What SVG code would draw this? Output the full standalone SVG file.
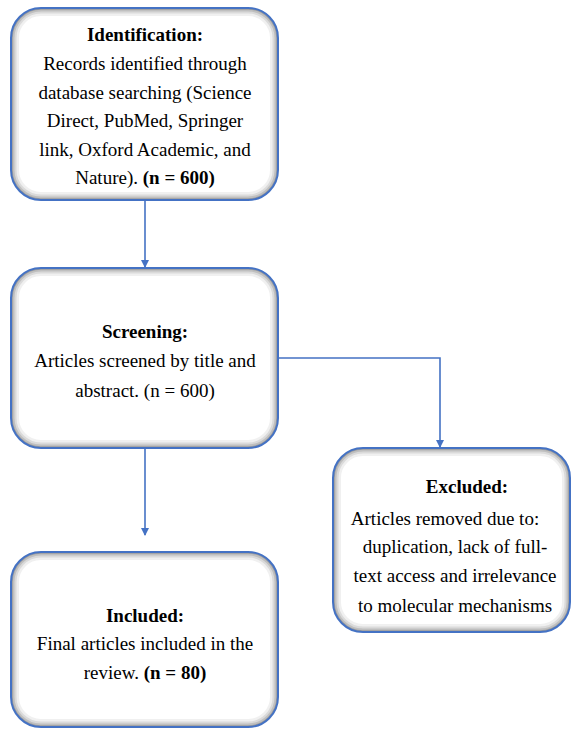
<svg xmlns="http://www.w3.org/2000/svg" width="572" height="729" viewBox="0 0 572 729">
<defs>
<style>
.fillw{fill:#ffffff}
.edge{fill:none;stroke:#4472C4;stroke-width:2}
.s1{fill:none;stroke:#000000;stroke-width:16;stroke-opacity:0.06}
.s2{fill:none;stroke:#000000;stroke-width:11;stroke-opacity:0.09}
.s3{fill:none;stroke:#000000;stroke-width:7;stroke-opacity:0.12}
.s4{fill:none;stroke:#000000;stroke-width:3.5;stroke-opacity:0.18}
text{font-family:'Liberation Serif','Times New Roman',serif;font-size:19px;fill:#000;text-anchor:middle}
.b{font-weight:bold}
.conn{fill:none;stroke:#4472C4;stroke-width:1.6}
</style>
<clipPath id="c1"><rect x="11" y="8" width="267" height="192" rx="30"/></clipPath>
<clipPath id="c2"><rect x="11" y="268" width="267" height="180" rx="30"/></clipPath>
<clipPath id="c3"><rect x="333" y="448" width="237" height="184" rx="30"/></clipPath>
<clipPath id="c4"><rect x="11" y="552" width="267" height="175" rx="30"/></clipPath>
<marker id="arr" markerWidth="8" markerHeight="8" refX="7" refY="4" orient="auto" markerUnits="userSpaceOnUse">
<path d="M0,0 L8,4 L0,8 z" fill="#4472C4"/>
</marker>
</defs>
<g id="connectors">
<path class="conn" d="M145,200 V267" marker-end="url(#arr)"/>
<path class="conn" d="M278,358 H440 V447" marker-end="url(#arr)"/>
<path class="conn" d="M145,448 V535" marker-end="url(#arr)"/>
</g>
<g id="identification">
<rect class="fillw" x="11" y="8" width="267" height="192" rx="30"/>
<g clip-path="url(#c1)">
<rect class="s1" x="11" y="8" width="267" height="192" rx="30"/>
<rect class="s2" x="11" y="8" width="267" height="192" rx="30"/>
<rect class="s3" x="11" y="8" width="267" height="192" rx="30"/>
<rect class="s4" x="11" y="8" width="267" height="192" rx="30"/>
</g>
<rect class="edge" x="11" y="8" width="267" height="192" rx="30"/>
<text class="b" x="145" y="41">Identification:</text>
<text x="145" y="70">Records identified through</text>
<text x="145" y="99">database searching (Science</text>
<text x="145" y="127">Direct, PubMed, Springer</text>
<text x="145" y="156">link, Oxford Academic, and</text>
<text x="145" y="184">Nature). <tspan class="b">(n = 600)</tspan></text>
</g>
<g id="screening">
<rect class="fillw" x="11" y="268" width="267" height="180" rx="30"/>
<g clip-path="url(#c2)">
<rect class="s1" x="11" y="268" width="267" height="180" rx="30"/>
<rect class="s2" x="11" y="268" width="267" height="180" rx="30"/>
<rect class="s3" x="11" y="268" width="267" height="180" rx="30"/>
<rect class="s4" x="11" y="268" width="267" height="180" rx="30"/>
</g>
<rect class="edge" x="11" y="268" width="267" height="180" rx="30"/>
<text class="b" x="145" y="338">Screening:</text>
<text x="145" y="367">Articles screened by title and</text>
<text x="145" y="397">abstract. (n = 600)</text>
</g>
<g id="excluded">
<rect class="fillw" x="333" y="448" width="237" height="184" rx="30"/>
<g clip-path="url(#c3)">
<rect class="s1" x="333" y="448" width="237" height="184" rx="30"/>
<rect class="s2" x="333" y="448" width="237" height="184" rx="30"/>
<rect class="s3" x="333" y="448" width="237" height="184" rx="30"/>
<rect class="s4" x="333" y="448" width="237" height="184" rx="30"/>
</g>
<rect class="edge" x="333" y="448" width="237" height="184" rx="30"/>
<text class="b" x="467" y="493">Excluded:</text>
<text x="445" y="525">Articles removed due to:</text>
<text x="455" y="553">duplication, lack of full-</text>
<text x="455" y="582">text access and irrelevance</text>
<text x="455" y="612">to molecular mechanisms</text>
</g>
<g id="included">
<rect class="fillw" x="11" y="552" width="267" height="175" rx="30"/>
<g clip-path="url(#c4)">
<rect class="s1" x="11" y="552" width="267" height="175" rx="30"/>
<rect class="s2" x="11" y="552" width="267" height="175" rx="30"/>
<rect class="s3" x="11" y="552" width="267" height="175" rx="30"/>
<rect class="s4" x="11" y="552" width="267" height="175" rx="30"/>
</g>
<rect class="edge" x="11" y="552" width="267" height="175" rx="30"/>
<text class="b" x="145" y="622">Included:</text>
<text x="145" y="650">Final articles included in the</text>
<text x="145" y="679">review. <tspan class="b">(n = 80)</tspan></text>
</g>
</svg>
